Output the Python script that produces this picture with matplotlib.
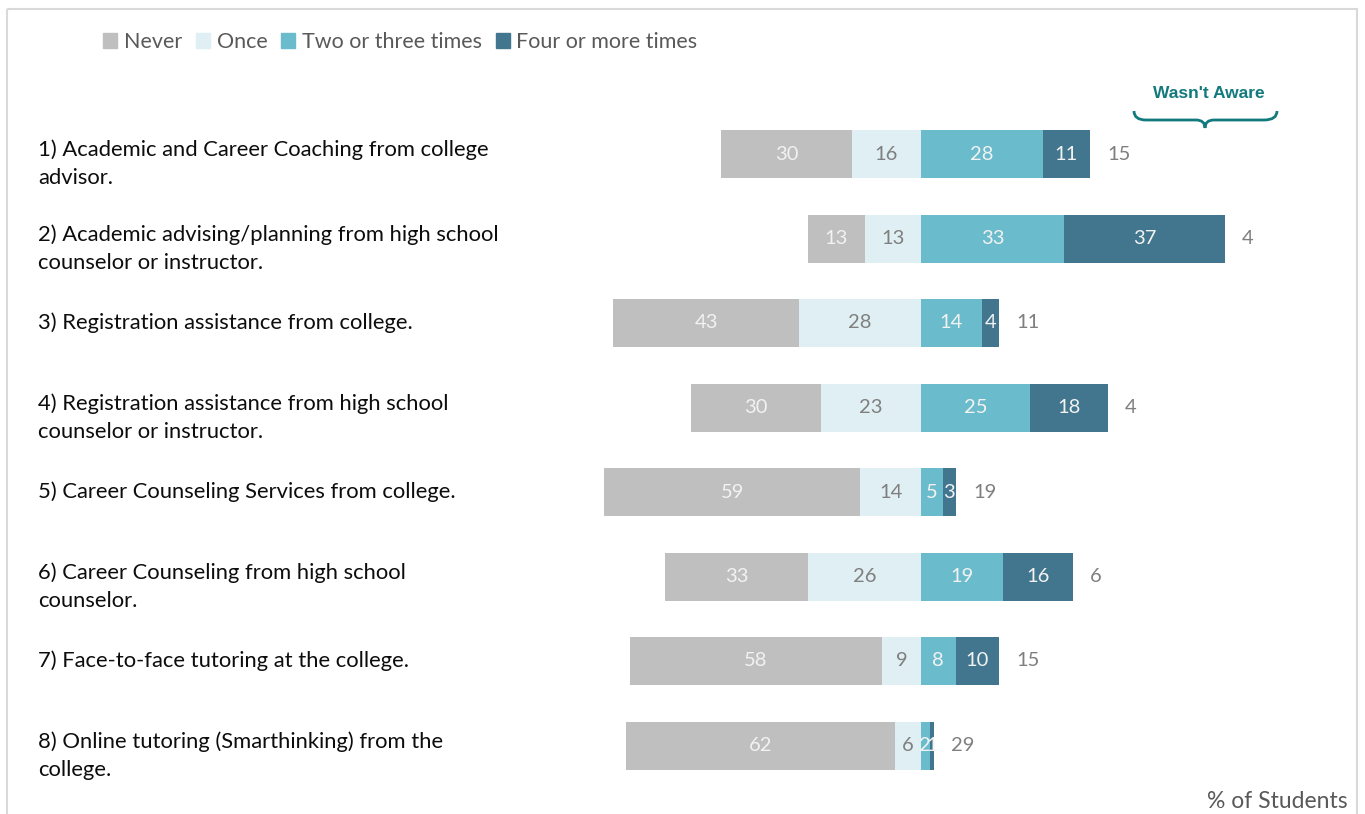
import matplotlib.pyplot as plt
from matplotlib.path import Path
from matplotlib.patches import PathPatch, Rectangle

plt.rcParams['font.family'] = ['Lato', 'DejaVu Sans']

# data
questions = [
    "1) Academic and Career Coaching from college\nadvisor.",
    "2) Academic advising/planning from high school\ncounselor or instructor.",
    "3) Registration assistance from college.",
    "4) Registration assistance from high school\ncounselor or instructor.",
    "5) Career Counseling Services from college.",
    "6) Career Counseling from high school\ncounselor.",
    "7) Face-to-face tutoring at the college.",
    "8) Online tutoring (Smarthinking) from the\ncollege.",
]
never = [30, 13, 43, 30, 59, 33, 58, 62]
once = [16, 13, 28, 23, 14, 26, 9, 6]
two_three = [28, 33, 14, 25, 5, 19, 8, 2]
four_plus = [11, 37, 4, 18, 3, 16, 10, 1]
not_aware = [15, 4, 11, 4, 19, 6, 15, 29]
series_names = ['Never', 'Once', 'Two or three times', 'Four or more times']
colors = ['#BFBFBF', '#DFEFF3', '#6ABBCB', '#41768E']
label_colors = ['#F2F2F2', '#7F7F7F', '#F2F2F2', '#F2F2F2']

W, H = 1365, 814
fig = plt.figure(figsize=(W / 100, H / 100), dpi=100)

# overlay in pixel coords for frame / brace / free text
ov = fig.add_axes([0, 0, 1, 1])
ov.set_xlim(0, W)
ov.set_ylim(H, 0)
ov.axis('off')

ax = fig.add_axes([0, 0, 1, 1], facecolor='none')
px_per_unit = 4.34
center_px = 921
ax.set_xlim(-center_px / px_per_unit, (W - center_px) / px_per_unit)
ax.set_ylim(H, 0)
ax.axis('off')

row_y = [154 + i * 84.5 for i in range(len(questions))]
bar_h = 48

for i, y in enumerate(row_y):
    n, o, t, f = never[i], once[i], two_three[i], four_plus[i]
    lefts = [-(n + o), -o, 0, t]
    vals = [n, o, t, f]
    for k in range(4):
        ax.barh(y, vals[k], left=lefts[k], height=bar_h, color=colors[k], edgecolor='none')
        ax.text(lefts[k] + vals[k] / 2, y, str(vals[k]), ha='center', va='center',
                fontsize=14.5, color=label_colors[k])
    ax.text(t + f + 4, y, str(not_aware[i]), ha='left', va='center', fontsize=14.5, color='#7F7F7F')
    nl = '\n' in questions[i]
    ov.text(38, y + (10 if nl else 0), questions[i], ha='left', va='center',
            fontsize=15.8, color='#0D0D0D', linespacing=1.5)

# legend
handles = [Rectangle((0, 0), 1, 1, color=c) for c in colors]
fig.legend(handles, series_names, loc='center left', bbox_to_anchor=(84 / W, 1 - 42 / H),
           ncol=4, frameon=False, fontsize=15.5, handlelength=0.65, handleheight=0.65,
           handletextpad=0.3, columnspacing=0.65, labelcolor='#595959')

# frame
ov.add_patch(Rectangle((7, 9), 1350, 830, fill=False, edgecolor='#D9D9D9', lw=1.5))

# brace + "Wasn't Aware"
teal = '#127A7C'
ov.text(1209, 93, "Wasn't Aware", ha='center', va='center', fontsize=12.5,
        fontweight='bold', color=teal, family=['Liberation Sans Narrow', 'Liberation Sans'])
verts = [(1134, 111), (1134, 120), (1146, 120), (1196, 120), (1205, 120), (1205, 128),
         (1205, 120), (1214, 120), (1264, 120), (1277, 120), (1277, 111)]
codes = [Path.MOVETO, Path.CURVE3, Path.CURVE3, Path.LINETO, Path.CURVE3, Path.CURVE3,
         Path.CURVE3, Path.CURVE3, Path.LINETO, Path.CURVE3, Path.CURVE3]
ov.add_patch(PathPatch(Path(verts, codes), fill=False, edgecolor=teal, lw=2))

ov.text(1348, 801, '% of Students', ha='right', va='center', fontsize=16.5, color='#595959')

fig.savefig('out.png', dpi=100)
